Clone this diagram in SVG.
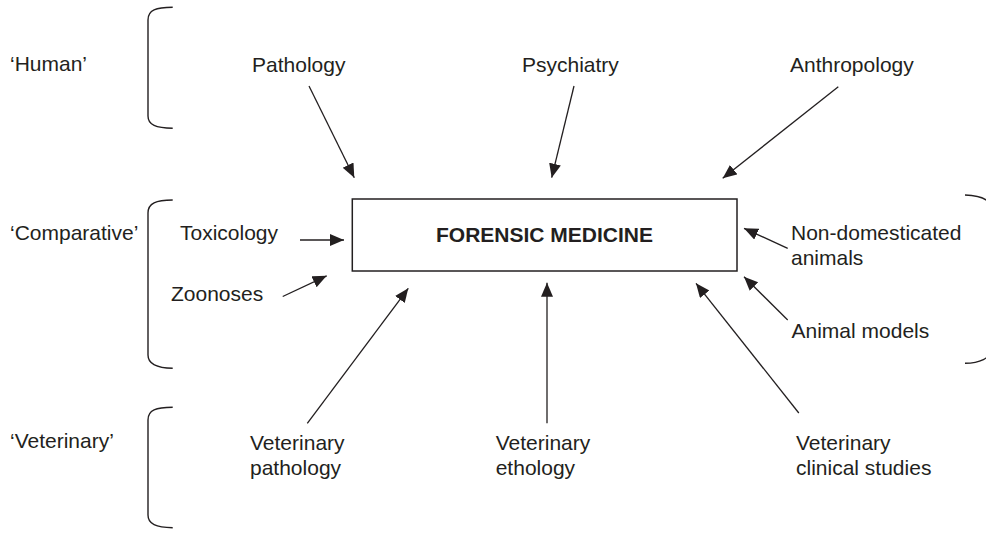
<svg xmlns="http://www.w3.org/2000/svg" width="986" height="534" viewBox="0 0 986 534">
<style>
text{font-family:"Liberation Sans",Arial,sans-serif;font-size:21px;fill:#231f20}
.b{font-weight:bold}
.ln{stroke:#231f20;stroke-width:1.3;fill:none}
.br{stroke:#231f20;stroke-width:1.4;fill:none}
</style>
<defs>
<marker id="ah" markerUnits="userSpaceOnUse" markerWidth="15" markerHeight="13" refX="14" refY="6" orient="auto">
<path d="M0,0 L14,6 L0,12 z" fill="#231f20"/>
</marker>
</defs>
<rect width="986" height="534" fill="#fff"/>
<g id="brackets">
<path class="br" d="M172.7,7.3 C156,7.5 148,10 148,20 L148,116 C148,125 156,128 172.7,128.3"/>
<path class="br" d="M172.7,200 C156,200.2 148,203 148,213 L148,355 C148,364 156,368 172.7,368.3"/>
<path class="br" d="M172.7,407.3 C156,407.5 148,410 148,420 L148,515 C148,524 156,527.5 172.7,527.7"/>
<path class="br" d="M965,195 C980,195.5 990,199 992,208 L992,350 C990,358 980,363 965,363.3"/>
</g>
<g id="group-labels">
<text x="10" y="71">‘Human’</text>
<text x="10" y="240">‘Comparative’</text>
<text x="10" y="448">‘Veterinary’</text>
</g>
<g id="forensic-medicine">
<rect x="352.3" y="199" width="384.7" height="72" fill="#fff" stroke="#231f20" stroke-width="1.5"/>
<text class="b" x="544.5" y="242.3" text-anchor="middle">FORENSIC MEDICINE</text>
</g>
<g id="pathology"><text x="252" y="71.5">Pathology</text></g>
<g id="psychiatry"><text x="522" y="71.5">Psychiatry</text></g>
<g id="anthropology"><text x="790" y="71.5">Anthropology</text></g>
<g id="toxicology"><text x="180" y="240">Toxicology</text></g>
<g id="zoonoses"><text x="171" y="300.7">Zoonoses</text></g>
<g id="non-domesticated"><text x="791" y="240">Non-domesticated</text><text x="791" y="265">animals</text></g>
<g id="animal-models"><text x="791.5" y="337.7">Animal models</text></g>
<g id="vet-pathology"><text x="250" y="450">Veterinary</text><text x="250" y="475">pathology</text></g>
<g id="vet-ethology"><text x="495.7" y="450">Veterinary</text><text x="495.7" y="474.5">ethology</text></g>
<g id="vet-clinical"><text x="796" y="449.5">Veterinary</text><text x="796" y="474.5">clinical studies</text></g>
<g id="connectors">
<line class="ln" x1="309" y1="86" x2="354.3" y2="177.7" marker-end="url(#ah)"/>
<line class="ln" x1="574" y1="86" x2="551.7" y2="177.7" marker-end="url(#ah)"/>
<line class="ln" x1="838.3" y1="86.7" x2="722.7" y2="178.3" marker-end="url(#ah)"/>
<line class="ln" x1="300" y1="240" x2="344" y2="240" marker-end="url(#ah)"/>
<line class="ln" x1="282.7" y1="296.5" x2="326.7" y2="275.8" marker-end="url(#ah)"/>
<line class="ln" x1="787.7" y1="248.3" x2="744" y2="228.3" marker-end="url(#ah)"/>
<line class="ln" x1="787.7" y1="320" x2="744" y2="276.7" marker-end="url(#ah)"/>
<line class="ln" x1="307.3" y1="423.3" x2="408.3" y2="288.3" marker-end="url(#ah)"/>
<line class="ln" x1="547" y1="423.3" x2="547" y2="282.7" marker-end="url(#ah)"/>
<line class="ln" x1="798.8" y1="413" x2="696" y2="283.3" marker-end="url(#ah)"/>
</g>
</svg>
